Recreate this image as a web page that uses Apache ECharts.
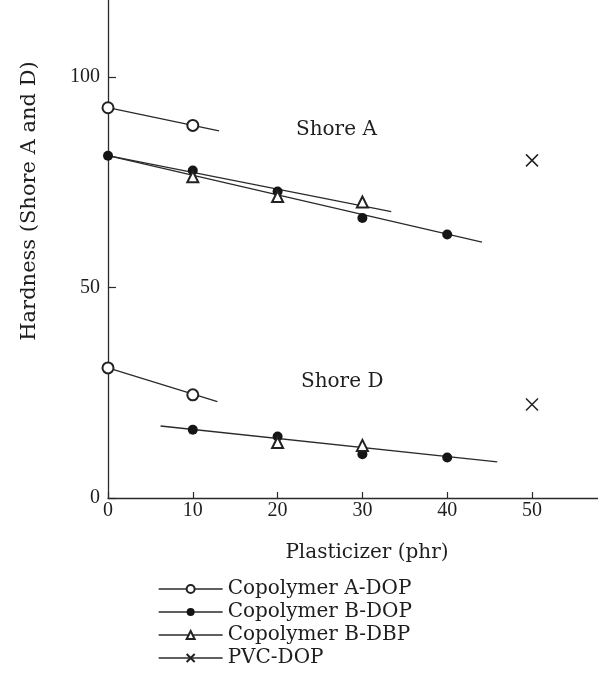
<!DOCTYPE html>
<html>
<head>
<meta charset="utf-8">
<script src="https://cdn.jsdelivr.net/npm/echarts@6/dist/echarts.min.js"></script>
<style>
  html, body { margin: 0; padding: 0; background: #ffffff; }
  #chart { width: 598px; height: 689px; }
</style>
</head>
<body>
<div id="chart"></div>
<script>
// Hardness of plasticized copolymers, Shore A (upper group) and Shore D (lower group)
const seriesNames = ['Copolymer A-DOP', 'Copolymer B-DOP', 'Copolymer B-DBP', 'PVC-DOP'];

// Measured points [phr, hardness]
const copolymerADop = [[0, 92.7], [10, 88.5], [0, 30.9], [10, 24.5]];
const copolymerBDop = [[0, 81.3], [10, 77.8], [20, 72.8], [30, 66.5], [40, 62.6],
                       [10, 16.2], [20, 14.6], [30, 10.4], [40, 9.6]];
const copolymerBDbp = [[10, 76.3], [20, 71.6], [30, 70.3], [20, 13.2], [30, 12.5]];
const pvcDop = [[50, 80.2], [50, 22.2]];

// Fitted trend lines [phr, hardness] end points
const fitADopShoreA = [[0, 92.7], [13.1, 87.2]];
const fitBDopShoreA = [[0, 81.3], [44.1, 60.8]];
const fitBDbpShoreA = [[0, 81.3], [33.4, 68.0]];
const fitADopShoreD = [[0, 30.9], [12.9, 22.9]];
const fitBDopShoreD = [[6.2, 17.1], [45.9, 8.6]];

// Axis ticks and annotations
const xTicks = [0, 10, 20, 30, 40, 50];
const yTicks = [0, 50, 100];
const groupLabels = ['Shore A', 'Shore D'];
const xTitle = 'Plasticizer (phr)';
const yTitle = 'Hardness (Shore A and D)';

const ink = '#1e1e1e';
const serif = 'DejaVu Serif';
const numFont = 'Liberation Serif';

const chart = echarts.init(document.getElementById('chart'), null, { renderer: 'canvas' });

function trend(data) {
  return {
    type: 'line',
    data: data,
    symbol: 'none',
    silent: true,
    z: 2,
    lineStyle: { color: '#2a2a2a', width: 1.3 },
    emphasis: { disabled: true },
    legendHoverLink: false
  };
}

function points(name, data, symbol, size, itemStyle) {
  return {
    name: name,
    type: 'line',
    data: data,
    symbol: symbol,
    symbolSize: size,
    showSymbol: true,
    z: 5,
    lineStyle: { width: 0, opacity: 0 },
    itemStyle: itemStyle,
    emphasis: { disabled: true }
  };
}

const option = {
  animation: false,
  backgroundColor: '#ffffff',
  textStyle: { fontFamily: serif, color: ink },
  grid: {
    left: 108, right: -18.8, top: -7.2, bottom: 191,
    containLabel: false,
    outerBoundsMode: 'none'
  },
  xAxis: {
    type: 'value',
    min: 0,
    max: 60,
    interval: 10,
    splitLine: { show: false },
    axisLine: { show: true, lineStyle: { color: '#2a2a2a', width: 1.3 } },
    axisTick: { show: true, inside: true, length: 6, lineStyle: { color: '#2a2a2a', width: 1.2 } },
    axisLabel: {
      show: true, margin: 3, fontSize: 20, fontFamily: numFont, color: ink,
      formatter: v => (xTicks.indexOf(v) >= 0 ? String(v) : '')
    }
  },
  yAxis: {
    type: 'value',
    min: 0,
    max: 120,
    interval: 50,
    splitLine: { show: false },
    axisLine: { show: true, lineStyle: { color: '#2a2a2a', width: 1.3 } },
    axisTick: { show: true, inside: true, length: 8, lineStyle: { color: '#2a2a2a', width: 1.2 } },
    axisLabel: {
      show: true, margin: 8, fontSize: 20, fontFamily: numFont, color: ink,
      formatter: v => (yTicks.indexOf(v) >= 0 ? String(v) : '')
    }
  },
  legend: {
    data: seriesNames,
    orient: 'vertical',
    left: 153,
    top: 574,
    itemWidth: 64,
    itemHeight: 10,
    itemGap: 3,
    selectedMode: false,
    textStyle: { fontFamily: serif, fontSize: 20, color: ink },
    lineStyle: { color: '#2a2a2a', width: 1.3, opacity: 1, type: 'solid' }
  },
  series: [
    trend(fitADopShoreA),
    trend(fitBDopShoreA),
    trend(fitBDbpShoreA),
    trend(fitADopShoreD),
    trend(fitBDopShoreD),
    points(seriesNames[0], copolymerADop, 'emptyCircle', 11,
      { color: '#222', borderColor: '#222', borderWidth: 1.4 }),
    points(seriesNames[1], copolymerBDop, 'circle', 10,
      { color: '#151515', borderColor: '#151515', borderWidth: 0 }),
    points(seriesNames[2], copolymerBDbp, 'emptyTriangle', 11,
      { color: '#222', borderColor: '#222', borderWidth: 1.4 }),
    points(seriesNames[3], pvcDop, 'path://M0,0L10,10M10,0L0,10', 12,
      { color: '#222', borderColor: '#222', borderWidth: 1.5 })
  ],
  graphic: [
    { type: 'text', x: 296, y: 130, silent: true,
      style: { text: groupLabels[0], fontSize: 20, fontFamily: serif, fill: ink, verticalAlign: 'middle' } },
    { type: 'text', x: 301, y: 382, silent: true,
      style: { text: groupLabels[1], fontSize: 20, fontFamily: serif, fill: ink, verticalAlign: 'middle' } },
    { type: 'text', x: 367, y: 553, silent: true,
      style: { text: xTitle, fontSize: 20, fontFamily: serif, fill: ink, align: 'center', verticalAlign: 'middle' } },
    { type: 'text', x: 30, y: 201, rotation: Math.PI / 2, silent: true,
      style: { text: yTitle, fontSize: 21, fontFamily: serif, fill: ink, align: 'center', verticalAlign: 'middle' } }
  ]
};

chart.setOption(option);
</script>
</body>
</html>
